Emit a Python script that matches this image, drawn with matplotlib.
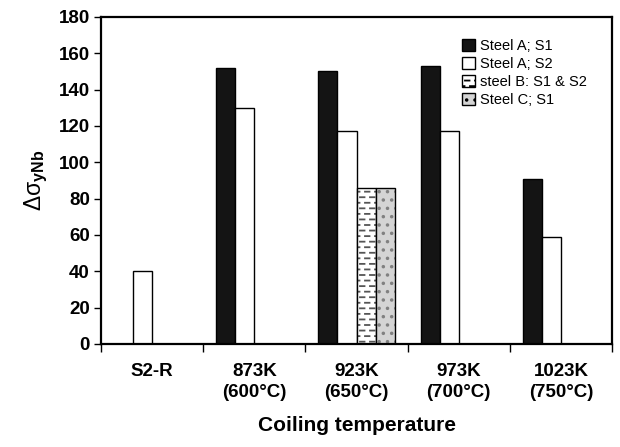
import numpy as np
import matplotlib
matplotlib.use("Agg")
import matplotlib.pyplot as plt
import matplotlib.hatch as mhatch
from matplotlib.patches import Patch

# ---------------- data ----------------
categories = ['S2-R', '873K\n(600°C)', '923K\n(650°C)', '973K\n(700°C)', '1023K\n(750°C)']
steelA_S1 = [np.nan, 152, 150, 153, 91]
steelA_S2 = [40, 130, 117, 117, 59]
steelB_S1S2 = [np.nan, np.nan, 86, np.nan, np.nan]
steelC_S1 = [np.nan, np.nan, 86, np.nan, np.nan]
series_labels = ['Steel A; S1', 'Steel A; S2', 'steel B: S1 & S2', 'Steel C; S1']
yticks = [0, 20, 40, 60, 80, 100, 120, 140, 160, 180]


# ---------- custom short-dash hatch (replaces the '-' hatch) ----------
class DashHatch(mhatch.HatchPatternBase):
    def __init__(self, hatch, density):
        self.num_rows = hatch.count('-') * density
        self.num_cols = 10 if self.num_rows else 0
        self.num_vertices = self.num_rows * self.num_cols * 2 * 2

    def set_vertices_and_codes(self, vertices, codes):
        from matplotlib.path import Path
        dash = 0.045
        k = 0
        for r in range(self.num_rows):
            y = (r + 0.5) / self.num_rows
            off = 0.0 if r % 2 == 0 else 0.05
            for c in range(self.num_cols):
                x0 = c / self.num_cols + off
                for xa, xb in ((x0, min(x0 + dash, 1.0)), (max(x0 + dash - 1.0, 0.0), max(x0 + dash - 1.0, 0.0))):
                    vertices[k] = (xa, y)
                    vertices[k + 1] = (xb, y)
                    codes[k] = Path.MOVETO
                    codes[k + 1] = Path.LINETO
                    k += 2


mhatch._hatch_types = [t for t in mhatch._hatch_types if t is not mhatch.HorizontalHatch] + [DashHatch]

# ---------------- style ----------------
plt.rcParams['font.family'] = ['Liberation Sans', 'DejaVu Sans']
plt.rcParams['mathtext.fontset'] = 'custom'
plt.rcParams['mathtext.rm'] = 'Liberation Sans'
plt.rcParams['mathtext.bf'] = 'Liberation Sans:bold'
plt.rcParams['mathtext.it'] = 'Liberation Sans:italic'
plt.rcParams['hatch.linewidth'] = 1.3

fig = plt.figure(figsize=(6.2, 4.47), dpi=100)
ax = fig.add_axes([101 / 620, 103 / 447, 511 / 620, 327 / 447])

x = np.arange(len(categories))
w = 0.186
series = [steelA_S1, steelA_S2, steelB_S1S2, steelC_S1]
faces = ['#141414', 'white', 'white', '#d4d4d4']
hatches = [None, None, '---', '..']
hatch_colors = ['black', 'black', '#555555', '#808080']
offsets = [-1.5 * w, -0.5 * w, 0.5 * w, 1.5 * w]

for vals, fc, h, hc, off in zip(series, faces, hatches, hatch_colors, offsets):
    v = np.array(vals, dtype=float)
    m = ~np.isnan(v)
    bars = ax.bar(x[m] + off, v[m], width=w, color=fc, edgecolor='black',
                  linewidth=1.0, hatch=h, zorder=2)
    if h:
        for b in bars:
            b._hatch_color = matplotlib.colors.to_rgba(hc)

ax.set_xlim(-0.5, len(categories) - 0.5)
ax.set_ylim(0, 180)
ax.set_yticks(yticks)
ax.set_yticklabels([str(t) for t in yticks], fontsize=13.5, fontweight='bold')
ax.tick_params(axis='y', direction='out', length=5, width=1, pad=3)

ax.set_xticks(np.arange(-0.5, len(categories), 1.0))
ax.set_xticklabels([])
ax.set_xticks(x, minor=True)
ax.set_xticklabels(categories, minor=True, fontsize=13.5, fontweight='bold', linespacing=1.25)
ax.tick_params(axis='x', which='major', direction='out', length=6, width=1)
ax.tick_params(axis='x', which='minor', length=0, pad=14)

for s in ax.spines.values():
    s.set_linewidth(1.6)

ax.set_xlabel('Coiling temperature', fontsize=15, fontweight='bold', labelpad=11)
ax.set_ylabel(r'$\mathrm{\Delta\sigma}_{\mathbf{yNb}}$', fontsize=16.5, labelpad=6)

handles = []
for fc, h, hc, lab in zip(faces, hatches, hatch_colors, series_labels):
    p = Patch(facecolor=fc, edgecolor='black', hatch=h, label=lab, linewidth=1.0)
    handles.append(p)
leg = ax.legend(handles=handles, loc='upper left', bbox_to_anchor=(0.69, 0.96),
                frameon=False, fontsize=10.5, handlelength=0.9, handleheight=0.95,
                handletextpad=0.3, labelspacing=0.25, borderaxespad=0.2)

fig.savefig('out.png', dpi=100)
